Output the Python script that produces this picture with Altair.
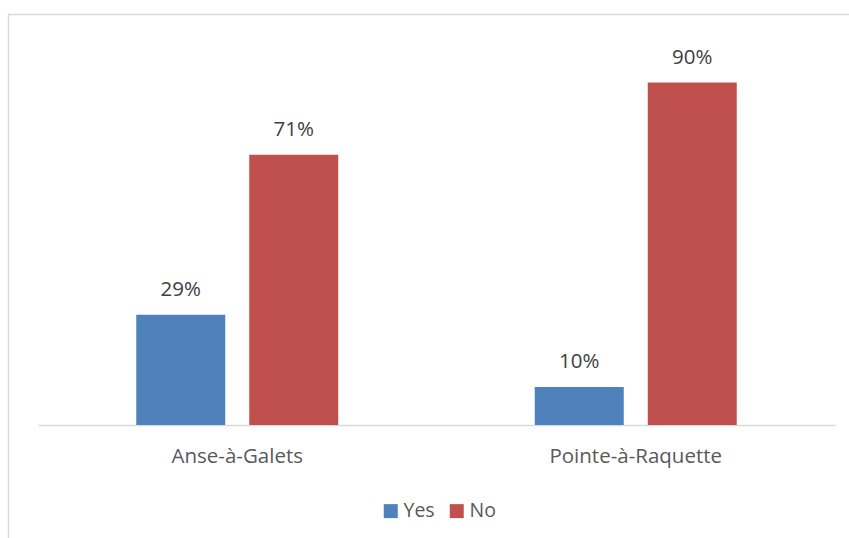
import altair as alt
import pandas as pd

categories = ["Anse-à-Galets", "Pointe-à-Raquette"]
series = ["Yes", "No"]
yes_values = [29, 10]
no_values = [71, 90]
colors = ["#4f81bd", "#c0504d"]

rows = []
for i, c in enumerate(categories):
    rows.append({"site": c, "answer": "Yes", "pct": yes_values[i], "label": f"{yes_values[i]}%"})
    rows.append({"site": c, "answer": "No", "pct": no_values[i], "label": f"{no_values[i]}%"})
df = pd.DataFrame(rows)

W, H = 797, 410
FONT = "Open Sans"

base = alt.Chart(df).encode(
    x=alt.X("site:N", sort=categories, title=None,
            scale=alt.Scale(paddingInner=0, paddingOuter=0),
            axis=alt.Axis(labelAngle=0, ticks=False, domainColor="#d9d9d9", domainWidth=1.3,
                          labelFontSize=20.5, labelColor="#595959", labelFont=FONT,
                          labelPadding=21, grid=False)),
    xOffset=alt.XOffset("answer:N", sort=series,
                        scale=alt.Scale(paddingInner=0.2124, paddingOuter=0.8696)),
    y=alt.Y("pct:Q", scale=alt.Scale(domain=[0, 107.75], nice=False), axis=None),
)

bars = base.mark_bar().encode(
    color=alt.Color("answer:N", sort=series,
                    scale=alt.Scale(domain=series, range=colors),
                    legend=alt.Legend(title=None, orient="none", direction="horizontal",
                                      legendX=343, legendY=486, symbolType="square",
                                      symbolSize=196, symbolStrokeWidth=0,
                                      labelFontSize=19.5, labelColor="#595959", labelFont=FONT,
                                      labelOffset=3, columnPadding=12, padding=0)),
)

labels = base.mark_text(dy=-19, fontSize=20.5, color="#404040", font=FONT, baseline="alphabetic").encode(
    text="label:N"
)

frame = alt.Chart(pd.DataFrame({"d": [0]})).mark_rect(
    fill=None, stroke="#d9d9d9", strokeWidth=1.5
).encode(x=alt.value(-29.5), x2=alt.value(W + 60), y=alt.value(-0.5), y2=alt.value(H + 200))

chart = alt.layer(frame, bars, labels).properties(
    width=W, height=H,
    autosize=alt.AutoSizeParams(type="none"),
    padding={"left": 38, "top": 15, "right": 14, "bottom": 113},
    background="white",
).configure_view(stroke=None)

chart.save("out.html", embed_options={"renderer": "svg", "actions": False})
